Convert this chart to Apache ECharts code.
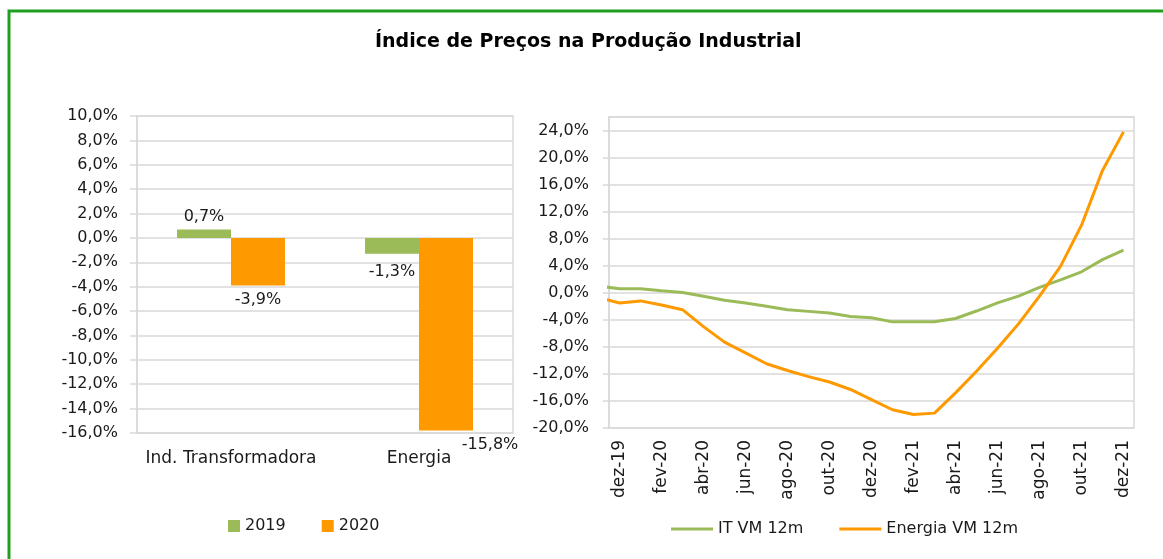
<!DOCTYPE html>
<html>
<head>
<meta charset="utf-8">
<script src="https://cdn.jsdelivr.net/npm/echarts@6/dist/echarts.min.js"></script>
<style>
html,body{margin:0;padding:0;background:#fff;}
#chart{width:1163px;height:559px;}
</style>
</head>
<body>
<div id="chart"></div>
<script>
const titleText = 'Índice de Preços na Produção Industrial';

// Left chart (bars)
const barCategories = ['Ind. Transformadora', 'Energia'];
const barSeriesNames = ['2019', '2020'];
const bar2019 = [0.7, -1.3];
const bar2020 = [-3.9, -15.8];

// Right chart (lines)
const months = ['dez-19','jan-20','fev-20','mar-20','abr-20','mai-20','jun-20','jul-20','ago-20','set-20','out-20','nov-20',
                'dez-20','jan-21','fev-21','mar-21','abr-21','mai-21','jun-21','jul-21','ago-21','set-21','out-21','nov-21','dez-21'];
const lineSeriesNames = ['IT VM 12m', 'Energia VM 12m'];
const itVM12 = [0.6, 0.6, 0.3, 0.05, -0.5, -1.1, -1.5, -2.0, -2.5, -2.75, -3.0, -3.5,
                -3.7, -4.3, -4.3, -4.3, -3.8, -2.7, -1.5, -0.5, 0.8, 1.9, 3.1, 4.9, 6.3];
const energiaVM12 = [-1.5, -1.2, -1.8, -2.5, -5.0, -7.3, -8.9, -10.5, -11.5, -12.4, -13.2, -14.3,
                     -15.8, -17.3, -18.0, -17.8, -14.8, -11.6, -8.2, -4.6, -0.5, 3.9, 10.0, 18.1, 23.8];
// previous month (nov-19), only partially visible at the left edge of the plot
const itPrev = 1.0;
const energiaPrev = -0.7;

const GREEN = '#9BBB59';
const ORANGE = '#FF9900';
const GRID = '#d9d9d9';
const TXT = '#1a1a1a';
const FONT = 'DejaVu Sans';

const pct = v => v.toFixed(1).replace('.', ',') + '%';

function linePoints(prev, arr) {
  const pts = [[-1, prev]];
  arr.forEach((v, i) => pts.push([i, v]));
  return pts;
}

const chart = echarts.init(document.getElementById('chart'), null, {renderer: 'canvas'});

const option = {
  backgroundColor: '#fff',
  textStyle: {fontFamily: FONT, color: TXT},
  animation: false,
  title: {
    text: titleText,
    left: 375,
    top: 33,
    padding: 0,
    textStyle: {fontFamily: FONT, fontSize: 19, fontWeight: 'bold', color: '#000'}
  },
  graphic: [{
    type: 'rect',
    shape: {x: 9, y: 11, width: 1200, height: 600},
    style: {fill: 'none', stroke: '#1f9e1f', lineWidth: 3},
    silent: true
  }],
  legend: [{
    data: barSeriesNames,
    left: 228, top: 518, padding: 0,
    icon: 'rect', itemWidth: 12, itemHeight: 12, itemGap: 36,
    textStyle: {fontFamily: FONT, fontSize: 16, color: TXT}
  }, {
    data: lineSeriesNames,
    left: 671, top: 521, padding: 0,
    icon: 'rect', itemWidth: 42, itemHeight: 3, itemGap: 36,
    textStyle: {fontFamily: FONT, fontSize: 16, color: TXT}
  }],
  grid: [
    {left: 137, right: 650, top: 116, bottom: 126, show: true, borderColor: GRID, borderWidth: 1.5},
    {left: 609, right: 29, top: 117, bottom: 131, show: true, borderColor: GRID, borderWidth: 1.5}
  ],
  xAxis: [{
    gridIndex: 0, type: 'category', data: barCategories,
    axisLine: {show: false, onZero: false},
    axisTick: {show: false},
    axisLabel: {fontFamily: FONT, fontSize: 17, color: TXT, margin: 17, interval: 0}
  }, {
    gridIndex: 1, type: 'category', data: months, boundaryGap: true,
    axisLine: {show: false, onZero: false},
    axisTick: {show: false},
    axisLabel: {fontFamily: FONT, fontSize: 17, color: TXT, rotate: 90, interval: 1, margin: 12}
  }, {
    gridIndex: 1, type: 'value', min: -0.5, max: months.length - 0.5, show: false,
    axisLine: {onZero: false}
  }],
  yAxis: [{
    gridIndex: 0, type: 'value', min: -16, max: 10, interval: 2,
    axisLine: {show: true, onZero: false, lineStyle: {color: GRID, width: 1.5}},
    axisTick: {show: true, length: 7, lineStyle: {color: GRID, width: 1.5}},
    splitLine: {lineStyle: {color: GRID, width: 1.5}},
    axisLabel: {fontFamily: FONT, fontSize: 16, color: TXT, margin: 19, formatter: pct}
  }, {
    gridIndex: 1, type: 'value', min: -20, max: 26, interval: 4,
    axisLine: {show: true, onZero: false, lineStyle: {color: GRID, width: 1.5}},
    axisTick: {show: true, length: 6, lineStyle: {color: GRID, width: 1.5}},
    splitLine: {lineStyle: {color: GRID, width: 1.5}},
    axisLabel: {fontFamily: FONT, fontSize: 16, color: TXT, margin: 20, showMaxLabel: false, formatter: pct}
  }],
  series: [{
    name: barSeriesNames[0], type: 'bar', xAxisIndex: 0, yAxisIndex: 0,
    barWidth: 54, barGap: '0%',
    itemStyle: {color: GREEN},
    data: bar2019.map((v, i) => ({
      value: v,
      label: {position: v >= 0 ? 'top' : 'bottom', distance: v >= 0 ? 5 : 10}
    })),
    label: {show: true, fontFamily: FONT, fontSize: 16, color: TXT, formatter: p => pct(p.value)}
  }, {
    name: barSeriesNames[1], type: 'bar', xAxisIndex: 0, yAxisIndex: 0,
    barWidth: 54, barGap: '0%',
    itemStyle: {color: ORANGE},
    data: bar2020.map((v, i) => ({
      value: v,
      label: {position: v >= 0 ? 'top' : 'bottom', distance: 6, offset: [i === 1 ? 44 : 0, 0]}
    })),
    label: {show: true, fontFamily: FONT, fontSize: 16, color: TXT, formatter: p => pct(p.value)}
  }, {
    name: lineSeriesNames[0], type: 'line', xAxisIndex: 2, yAxisIndex: 1,
    showSymbol: false, symbol: 'none', clip: true,
    lineStyle: {color: GREEN, width: 3},
    itemStyle: {color: GREEN},
    data: linePoints(itPrev, itVM12)
  }, {
    name: lineSeriesNames[1], type: 'line', xAxisIndex: 2, yAxisIndex: 1,
    showSymbol: false, symbol: 'none', clip: true,
    lineStyle: {color: ORANGE, width: 3},
    itemStyle: {color: ORANGE},
    data: linePoints(energiaPrev, energiaVM12)
  }]
};

chart.setOption(option);
</script>
</body>
</html>
